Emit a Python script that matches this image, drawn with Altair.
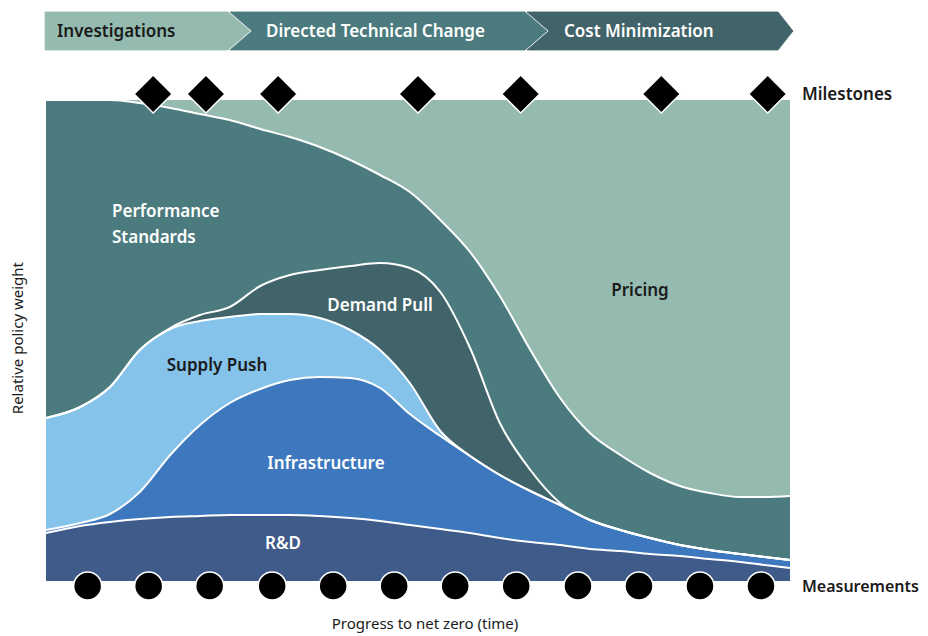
import altair as alt
import pandas as pd

# ---------------- data ----------------
x_vals = [0, 4.6, 8.6, 12.6, 16.7, 20.7, 24.7, 28.8, 32.8, 36.8, 40.9, 44.9, 48.9,
          53.0, 57.0, 61.0, 65.1, 69.1, 73.1, 77.2, 81.2, 85.2, 89.2, 93.3, 96.6, 100]

rd      = [48, 55, 59, 62, 64, 65, 66, 66, 66, 65, 63, 60, 56, 52, 48, 43, 39, 36, 32, 30, 27, 25, 22, 19, 16, 13]
infra   = [3, 3, 8, 27, 62, 91, 112, 126, 135, 139, 140, 133, 111, 93, 77, 63, 51, 40, 29, 21, 16, 11, 9, 8, 8, 8]
supply  = [112, 116, 127, 142, 126, 104, 86, 75, 66, 59, 48, 38, 31, 5, 0, 0, 0, 0, 0, 0, 0, 0, 0, 0, 0, 0]
demand  = [0, 0, 0, 0, 1, 6, 10, 28, 39, 48, 64, 87, 115, 139, 108, 52, 21, 2, 0, 0, 0, 0, 0, 0, 0, 0]
perf    = [318, 307, 287, 247, 220, 201, 187, 157, 138, 123, 106, 88, 76, 72, 96, 127, 120, 105, 87, 75, 65, 59, 57, 57, 60, 64]
pricing = [0, 0, 0, 3, 8, 14, 20, 29, 37, 47, 60, 75, 92, 120, 152, 196, 250, 298, 333, 355, 373, 386, 393, 397, 397, 396]

layer_names = ["R&D", "Infrastructure", "Supply Push", "Demand Pull", "Performance Standards", "Pricing"]
layer_colors = ["#3e5b8a", "#3d77bd", "#85c3ea", "#41646a", "#4b7b7e", "#95bbb0"]

milestone_x = [14.4, 21.5, 31.2, 50.0, 63.8, 82.7, 97.0]
measurement_x = [5.6, 13.8, 22.0, 30.4, 38.6, 46.8, 55.0, 63.2, 71.5, 79.7, 87.9, 96.1]

phase_names = ["Investigations", "Directed Technical Change", "Cost Minimization"]
phase_colors = ["#95bbb0", "#4b7b7e", "#41646a"]
phase_text_colors = ["#1a1a1a", "#ffffff", "#ffffff"]
phase_left_top = [-0.13, 24.73, 64.65]
phase_left_mid = [-0.13, 27.69, 67.61]
phase_right_top = [24.46, 64.38, 98.39]
phase_right_mid = [27.42, 67.34, 100.4]
phase_label_x = [1.48, 29.57, 69.62]
banner_top, banner_mid, banner_bottom = 1.183, 1.1435, 1.104

# ---------------- tables ----------------
series = [rd, infra, supply, demand, perf, pricing]
rows = []
for i, x in enumerate(x_vals):
    total = sum(s[i] for s in series)
    cum = 0
    for name, col, s in zip(layer_names, layer_colors, series):
        lo = cum / total
        cum += s[i]
        hi = cum / total
        rows.append({"x": x, "layer": name, "col": col, "lo": lo, "hi": hi})
df = pd.DataFrame(rows)

# chevrons: each is drawn as an upper and a lower half (vertical ranged areas)
chev_rows = []
for j, name in enumerate(phase_names):
    x0, x0m = phase_left_top[j], phase_left_mid[j]
    x1, x1m = phase_right_top[j], phase_right_mid[j]
    col = phase_colors[j]
    if x0m > x0:
        upper = [(x0, banner_top, banner_top), (x0m, banner_top, banner_mid)]
        lower = [(x0, banner_bottom, banner_bottom), (x0m, banner_mid, banner_bottom)]
    else:
        upper = [(x0, banner_top, banner_mid)]
        lower = [(x0, banner_mid, banner_bottom)]
    upper += [(x1, banner_top, banner_mid), (x1m, banner_mid, banner_mid)]
    lower += [(x1, banner_mid, banner_bottom), (x1m, banner_mid, banner_mid)]
    for half, pts in (("u", upper), ("l", lower)):
        for (xx, a, b) in pts:
            chev_rows.append({"piece": name + half, "col": col, "x": xx, "a": a, "b": b})
chev_df = pd.DataFrame(chev_rows)

phase_lab_df = pd.DataFrame({"x": phase_label_x, "y": [banner_mid - 0.003] * 3,
                             "t": phase_names, "c": phase_text_colors})

ms_df = pd.DataFrame({"x": milestone_x, "y": [1.0125] * len(milestone_x)})
me_df = pd.DataFrame({"x": measurement_x, "y": [-0.0104] * len(measurement_x)})

center_labels = pd.DataFrame({
    "x": [79.84, 44.9, 22.98, 37.63, 31.85],
    "y": [0.603, 0.572, 0.447, 0.243, 0.077],
    "t": ["Pricing", "Demand Pull", "Supply Push", "Infrastructure", "R&D"],
    "c": ["#1a1a1a", "#ffffff", "#1a1a1a", "#ffffff", "#ffffff"],
})
left_labels = pd.DataFrame({
    "x": [8.87, 8.87],
    "y": [0.767, 0.713],
    "t": ["Performance", "Standards"],
    "c": ["#ffffff", "#ffffff"],
})
side_labels = pd.DataFrame({
    "x": [101.6, 101.6],
    "y": [1.0105, -0.0125],
    "t": ["Milestones", "Measurements"],
    "s": [17, 16],
})
xtitle = pd.DataFrame({"x": [50.94], "y": [-0.0895], "t": ["Progress to net zero (time)"]})
ytitle = pd.DataFrame({"x": [-3.76], "y": [0.505], "t": ["Relative policy weight"]})

# ---------------- chart ----------------
XS = alt.Scale(domain=[0, 100], nice=False, zero=False)
YS = alt.Scale(domain=[0, 1], nice=False, zero=False)
FONT = "Noto Sans"


def X(f):
    return alt.X(f, scale=XS, axis=None)


def Y(f):
    return alt.Y(f, scale=YS, axis=None)


areas = alt.Chart(df).mark_area(interpolate="monotone").encode(
    x=X("x:Q"), y=Y("lo:Q"), y2="hi:Q",
    fill=alt.Fill("col:N", scale=None), detail="layer:N",
)

lines = alt.Chart(df[df.layer != "Pricing"]).mark_line(
    interpolate="monotone", color="white", strokeWidth=2
).encode(x=X("x:Q"), y=Y("hi:Q"), detail="layer:N")

chevrons = alt.Chart(chev_df).mark_area(interpolate="linear", strokeWidth=0.8).encode(
    x=X("x:Q"), y=Y("a:Q"), y2="b:Q",
    fill=alt.Fill("col:N", scale=None), stroke=alt.Stroke("col:N", scale=None),
    detail="piece:N",
)

phase_text = alt.Chart(phase_lab_df).mark_text(
    align="left", baseline="middle", font=FONT, fontSize=17, fontWeight=600
).encode(x=X("x:Q"), y=Y("y:Q"), text="t:N", color=alt.Color("c:N", scale=None))

diamonds = alt.Chart(ms_df).mark_point(
    shape="diamond", filled=True, fill="black", stroke="white", strokeWidth=1.5,
    size=1444, opacity=1
).encode(x=X("x:Q"), y=Y("y:Q"))

circles = alt.Chart(me_df).mark_point(
    shape="circle", filled=True, fill="black", stroke="white", strokeWidth=1.5,
    size=784, opacity=1
).encode(x=X("x:Q"), y=Y("y:Q"))

clab = alt.Chart(center_labels).mark_text(
    align="center", baseline="middle", font=FONT, fontSize=17, fontWeight=600
).encode(x=X("x:Q"), y=Y("y:Q"), text="t:N", color=alt.Color("c:N", scale=None))

llab = alt.Chart(left_labels).mark_text(
    align="left", baseline="middle", font=FONT, fontSize=17, fontWeight=600
).encode(x=X("x:Q"), y=Y("y:Q"), text="t:N", color=alt.Color("c:N", scale=None))

slab = alt.Chart(side_labels).mark_text(
    align="left", baseline="middle", font=FONT, fontWeight=600, color="#1a1a1a"
).encode(x=X("x:Q"), y=Y("y:Q"), text="t:N", size=alt.Size("s:Q", scale=None))

xt = alt.Chart(xtitle).mark_text(
    align="center", baseline="middle", font=FONT, fontSize=15, color="#1a1a1a"
).encode(x=X("x:Q"), y=Y("y:Q"), text="t:N")

yt = alt.Chart(ytitle).mark_text(
    align="center", baseline="middle", font=FONT, fontSize=15, color="#1a1a1a", angle=270
).encode(x=X("x:Q"), y=Y("y:Q"), text="t:N")

chart = alt.layer(
    areas, lines, chevrons, phase_text, diamonds, circles, clab, llab, slab, xt, yt
).properties(
    width=744, height=481,
    padding={"left": 38, "top": 92, "right": 130, "bottom": 54},
    autosize=alt.AutoSizeParams(type="none"),
).configure_view(stroke=None)

chart.save("out.html", embed_options={"renderer": "svg", "actions": False})
